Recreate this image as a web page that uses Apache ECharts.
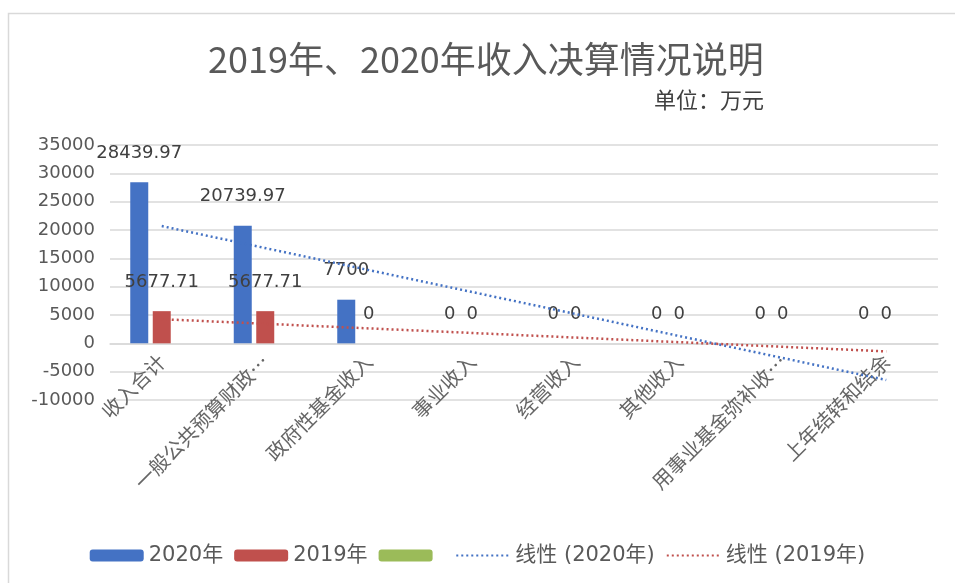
<!DOCTYPE html>
<html>
<head>
<meta charset="utf-8">
<script src="https://cdn.jsdelivr.net/npm/echarts@6/dist/echarts.min.js"></script>
<style>html,body{margin:0;padding:0;background:#fff;}#c{width:955px;height:583px;}</style>
</head>
<body>
<div id="c"></div>
<script>
const categories = ['收入合计', '一般公共预算财政…', '政府性基金收入', '事业收入', '经营收入', '其他收入', '用事业基金弥补收…', '上年结转和结余'];
const values2020 = [28439.97, 20739.97, 7700, 0, 0, 0, 0, 0];
const values2019 = [5677.71, 5677.71, 0, 0, 0, 0, 0, 0];
const valuesEmpty = [];
// linear trendline end points (first and last category)
const trend2020Ends = [20690, -6470];
const trend2019Ends = [4260, -1420];
const yMin = -10000, yMax = 35000, yStep = 5000;

function endsToSeries(ends) {
  const arr = categories.map(() => null);
  arr[0] = ends[0];
  arr[categories.length - 1] = ends[1];
  return arr;
}

const numFont = 'DejaVu Sans, Noto Sans CJK SC, sans-serif';
const cjkFont = 'Noto Sans CJK SC, sans-serif';
const blue = '#4472C4', red = '#C0504D', green = '#9BBB59';

const labelCfg = {
  show: true, position: 'top', distance: 20,
  fontFamily: numFont, fontSize: 18, color: '#404040',
  formatter: p => String(p.value)
};

const chart = echarts.init(document.getElementById('c'));
chart.setOption({
  animation: false,
  backgroundColor: '#fff',
  graphic: [{
    type: 'rect', shape: { x: 8.5, y: 13.5, width: 1000, height: 1000 },
    style: { fill: 'none', stroke: '#d9d9d9', lineWidth: 1.5 }, silent: true
  }],
  title: [
    { text: '2019年、2020年收入决算情况说明', left: 203, top: 36,
      textStyle: { fontSize: 36, fontWeight: 'normal', color: '#595959', fontFamily: cjkFont } },
    { text: '单位：万元', right: 186, top: 84,
      textStyle: { fontSize: 22, fontWeight: 'normal', color: '#404040', fontFamily: cjkFont } }
  ],
  legend: {
    top: 540, left: 'center', itemWidth: 54, itemHeight: 12, itemGap: 11,
    textStyle: { fontSize: 21, color: '#595959', fontFamily: numFont },
    data: [
      { name: '2020年' }, { name: '2019年' }, { name: ' ' },
      { name: '线性 (2020年)', itemStyle: { opacity: 0 } },
      { name: '线性 (2019年)', itemStyle: { opacity: 0 } }
    ]
  },
  grid: { left: 110, right: 17, top: 145, bottom: 183, containLabel: false },
  xAxis: {
    type: 'category', data: categories,
    axisLine: { onZero: true, lineStyle: { color: '#d9d9d9', width: 1.5 } },
    axisTick: { show: false },
    axisLabel: { interval: 0, rotate: 45, margin: -42, fontSize: 20, color: '#666666', fontFamily: cjkFont }
  },
  yAxis: {
    type: 'value', min: yMin, max: yMax, interval: yStep,
    axisLine: { show: false }, axisTick: { show: false },
    axisLabel: { margin: 15, fontSize: 18, color: '#595959', fontFamily: numFont, formatter: v => String(v) },
    splitLine: { lineStyle: { color: '#d9d9d9', width: 1.5 } }
  },
  series: [
    { name: '2020年', type: 'bar', data: values2020, barWidth: 18, barGap: '25%',
      itemStyle: { color: blue }, label: labelCfg },
    { name: '2019年', type: 'bar', data: values2019, barWidth: 18, barGap: '25%',
      itemStyle: { color: red }, label: labelCfg },
    { name: ' ', type: 'bar', data: valuesEmpty, barWidth: 18, barGap: '25%',
      itemStyle: { color: green } },
    { name: '线性 (2020年)', type: 'line', data: endsToSeries(trend2020Ends), connectNulls: true,
      symbol: 'none', z: 5, itemStyle: { color: blue },
      lineStyle: { color: blue, width: 2.5, type: [2, 3] } },
    { name: '线性 (2019年)', type: 'line', data: endsToSeries(trend2019Ends), connectNulls: true,
      symbol: 'none', z: 5, itemStyle: { color: red },
      lineStyle: { color: red, width: 2.5, type: [2, 3] } }
  ]
});
</script>
</body>
</html>
